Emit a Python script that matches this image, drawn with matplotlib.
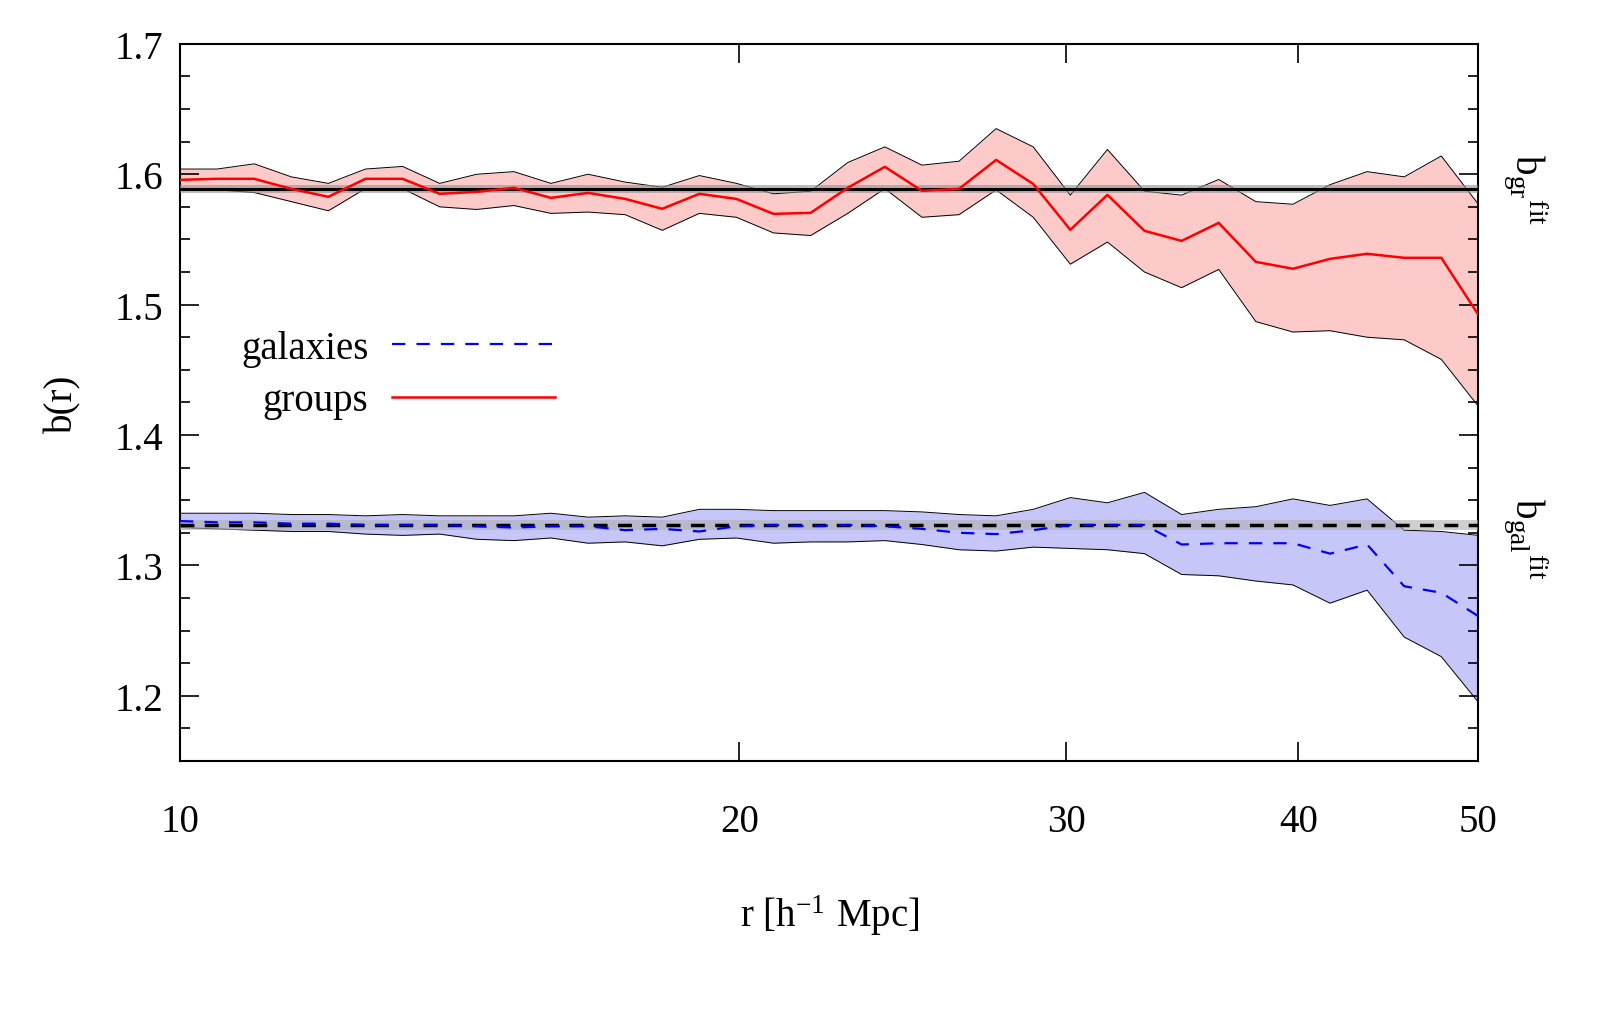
import numpy as np
import matplotlib
matplotlib.use("Agg")
import matplotlib.pyplot as plt
from matplotlib.ticker import FixedLocator, MultipleLocator

plt.rcParams['font.family'] = ['Liberation Serif', 'DejaVu Serif']
plt.rcParams['mathtext.fontset'] = 'stix'

r = np.logspace(1, np.log10(50), 36)
gr = [1.5957,1.5965,1.5965,1.5888,1.5827,1.5965,1.5965,1.585,1.5865,1.5896,1.5819,1.5857,1.5811,1.5735,1.585,1.5811,
      1.5696,1.5704,1.5896,1.6057,1.5873,1.5888,1.611,1.5926,1.5574,1.5842,1.5566,1.5489,1.5627,1.5328,1.5275,1.5351,
      1.539,1.5359,1.5359,1.4922]
gr_hi = [1.604,1.604,1.608,1.598,1.593,1.604,1.606,1.593,1.600,1.602,1.593,1.600,1.594,1.590,1.599,1.593,1.585,1.587,
         1.609,1.621,1.607,1.610,1.635,1.621,1.584,1.619,1.587,1.584,1.596,1.579,1.577,1.592,1.602,1.598,1.614,1.577]
gr_lo = [1.589,1.588,1.586,1.579,1.572,1.589,1.589,1.575,1.573,1.576,1.570,1.571,1.569,1.557,1.570,1.567,1.555,1.553,
         1.570,1.589,1.567,1.569,1.588,1.567,1.531,1.548,1.525,1.513,1.527,1.487,1.479,1.480,1.475,1.473,1.458,1.422]
gal = [1.334,1.333,1.333,1.332,1.332,1.331,1.331,1.331,1.330,1.329,1.330,1.330,1.327,1.328,1.326,1.330,1.331,1.330,
       1.331,1.330,1.328,1.325,1.324,1.327,1.331,1.331,1.331,1.316,1.317,1.317,1.317,1.309,1.316,1.284,1.279,1.261]
gal_hi = [1.340,1.340,1.340,1.339,1.339,1.338,1.339,1.338,1.338,1.338,1.340,1.337,1.338,1.337,1.343,1.343,1.342,1.342,
          1.342,1.342,1.341,1.339,1.338,1.343,1.352,1.348,1.356,1.339,1.343,1.345,1.351,1.346,1.351,1.327,1.326,1.323]
gal_lo = [1.329,1.328,1.327,1.326,1.326,1.324,1.323,1.324,1.320,1.319,1.321,1.317,1.318,1.315,1.320,1.321,1.317,1.318,
          1.318,1.319,1.316,1.312,1.311,1.314,1.313,1.312,1.309,1.293,1.292,1.288,1.285,1.271,1.281,1.245,1.230,1.195]
fit_gr, fit_gr_err = 1.589, 0.003
fit_gal, fit_gal_err = 1.331, 0.004

fig = plt.figure(figsize=(16, 10.2), dpi=100)
ax = fig.add_axes([0.1125, 0.253, 0.8115, 0.703])
ax.set_xscale('log')

ax.fill_between(r, gr_lo, gr_hi, color='#fdcaca', lw=0, zorder=1)
ax.plot(r, gr_hi, color='k', lw=0.7, zorder=2)
ax.plot(r, gr_lo, color='k', lw=0.7, zorder=2)
ax.fill_between(r, gal_lo, gal_hi, color='#c6c6f8', lw=0, zorder=1)
ax.plot(r, gal_hi, color='k', lw=0.7, zorder=2)
ax.plot(r, gal_lo, color='k', lw=0.7, zorder=2)

ax.axhspan(fit_gr - fit_gr_err, fit_gr + fit_gr_err, color='#909090', alpha=0.6, lw=0, zorder=3)
ax.axhspan(fit_gal - fit_gal_err, fit_gal + fit_gal_err, color='#b0b0b0', alpha=0.6, lw=0, zorder=3)
ax.axhline(fit_gr, color='k', lw=2.2, zorder=4)
ax.axhline(fit_gal, color='k', lw=2.5, ls=(0, (4, 3)), zorder=4)

lg, = ax.plot(r, gal, color='#0000ff', lw=1.6, ls=(0, (6, 5)), zorder=5, label='galaxies')
lr, = ax.plot(r, gr, color='#ff0000', lw=1.8, zorder=5, label='groups')

ax.set_xlim(10, 50)
ax.set_ylim(1.15, 1.7)
ax.xaxis.set_major_locator(FixedLocator([10, 20, 30, 40, 50]))
ax.xaxis.set_minor_locator(FixedLocator([]))
ax.set_xticklabels(['10', '20', '30', '40', '50'])
ax.yaxis.set_major_locator(FixedLocator([1.2, 1.3, 1.4, 1.5, 1.6, 1.7]))
ax.yaxis.set_minor_locator(MultipleLocator(0.025))
ax.tick_params(which='both', direction='in', top=True, right=True, labelsize=28, width=1.2)
ax.tick_params(which='major', length=14)
ax.tick_params(which='minor', length=7)
ax.tick_params(axis='x', pad=30)
ax.tick_params(axis='y', pad=12)
for s in ax.spines.values():
    s.set_linewidth(1.5)

ax.set_xlabel(r'r [h$^{\mathregular{-1}}$ Mpc]', fontsize=28, labelpad=38)
ax.set_ylabel('b(r)', fontsize=28, labelpad=24)

leg = ax.legend(handles=[lg, lr], loc='upper left', bbox_to_anchor=(0.02, 0.65), markerfirst=False,
                frameon=False, fontsize=28, handlelength=4.2, labelspacing=0.4, handletextpad=0.6)

ax.text(1.018, fit_gr, r'b$_{\mathregular{gr}}$$^{\mathregular{fit}}$', transform=ax.get_yaxis_transform(),
        rotation=-90, fontsize=28, va='center', ha='left')
ax.text(1.018, fit_gal - 0.01, r'b$_{\mathregular{gal}}$$^{\mathregular{fit}}$', transform=ax.get_yaxis_transform(),
        rotation=-90, fontsize=28, va='center', ha='left')

fig.savefig('out.png', dpi=100)
